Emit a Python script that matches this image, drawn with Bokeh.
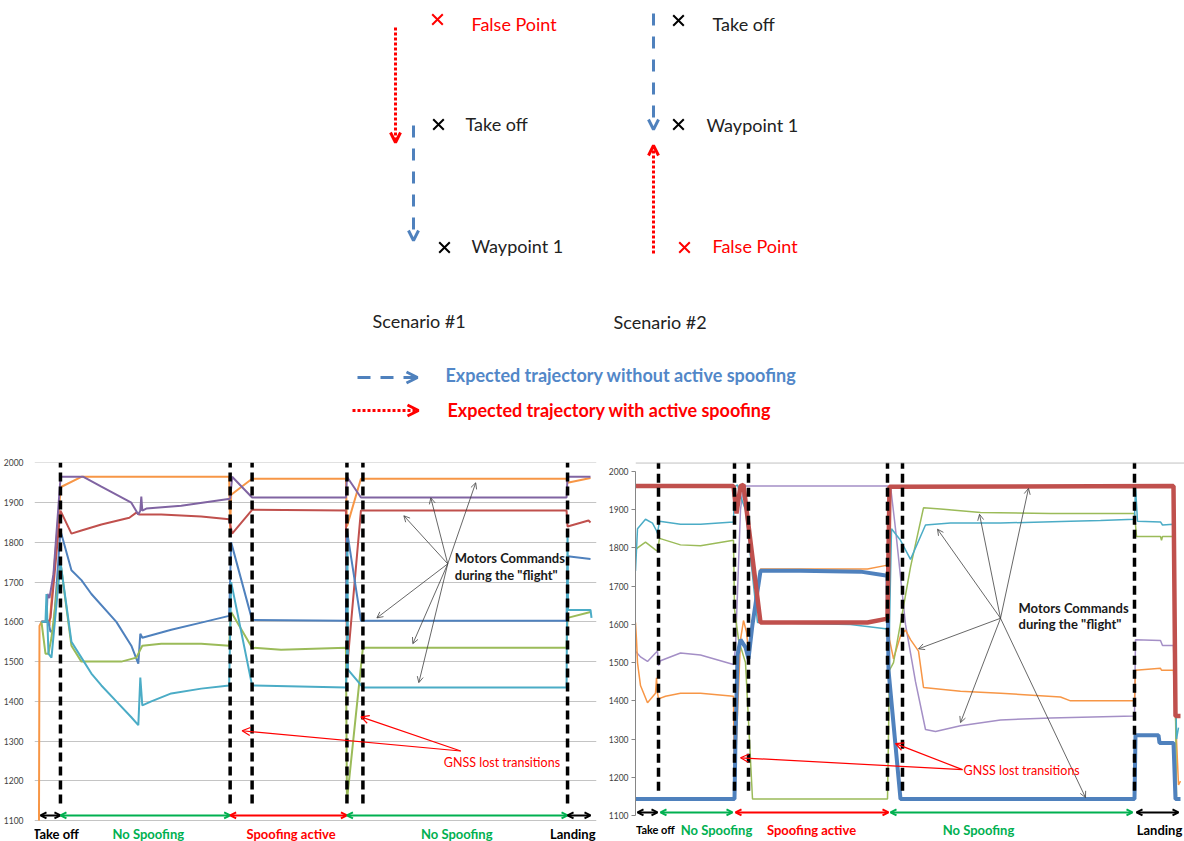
from bokeh.plotting import figure
from bokeh.layouts import column, row
from bokeh.models import Range1d, Arrow, OpenHead, Label, Span, FixedTicker
from bokeh.core.properties import value
from bokeh.embed import file_html
from bokeh.resources import INLINE

FONT = "Lato"

# ---------------- scenario diagram (page-like coordinates) ----------------
cross_x = [437, 438, 444, 678, 678, 684]
cross_y = [19, 124, 247, 20, 124, 247]
cross_color = ["#FF0000", "#000000", "#000000", "#000000", "#000000", "#FF0000"]
point_text = ["False Point", "Take off", "Waypoint 1", "Take off", "Waypoint 1", "False Point"]
point_text_x = [471, 465, 471, 712, 706, 712]
point_text_y = [23, 123, 245, 23, 124, 245]
point_text_color = ["#FF0000", "#222222", "#222222", "#222222", "#222222", "#FF0000"]
scenario_names = ["Scenario #1", "Scenario #2"]
scenario_x = [372, 613]
scenario_y = [320, 321]
legend_names = ["Expected trajectory without active spoofing", "Expected trajectory with active spoofing"]

# ---------------- left chart (scenario #1) ----------------
L_orange_t = [0.5, 1, 3, 9, 11, 22, 23, 43, 191, 192, 193, 214, 308, 309, 323, 529, 530, 553]
L_orange_v = [1100, 1590, 1600, 1600, 1590, 1930, 1940, 1965, 1965, 1830, 1920, 1960, 1960, 1840, 1960, 1960, 1950, 1962]
L_purple_t = [3, 8, 9, 11, 15, 22, 23, 45, 63, 93, 100, 102, 103, 104, 108, 143, 192, 194, 214, 308, 309, 323, 529, 530, 553]
L_purple_v = [1600, 1600, 1670, 1660, 1720, 1960, 1965, 1965, 1940, 1900, 1870, 1880, 1915, 1880, 1885, 1892, 1910, 1965, 1913, 1913, 1965, 1913, 1913, 1965, 1965]
L_red_t = [3, 10, 12, 22, 33, 43, 63, 91, 98, 101, 103, 123, 163, 191, 194, 214, 308, 309, 323, 529, 530, 551, 553]
L_red_v = [1600, 1600, 1610, 1880, 1822, 1830, 1845, 1862, 1875, 1870, 1870, 1870, 1865, 1858, 1822, 1882, 1880, 1480, 1880, 1880, 1840, 1855, 1850]
L_blue_t = [3, 10, 12, 15, 22, 33, 43, 53, 78, 93, 100, 102, 104, 133, 163, 191, 193, 214, 308, 309, 323, 529, 530, 553]
L_blue_v = [1600, 1600, 1575, 1580, 1830, 1730, 1705, 1670, 1600, 1540, 1495, 1570, 1560, 1580, 1598, 1615, 1800, 1605, 1603, 1830, 1603, 1603, 1765, 1758]
L_green_t = [3, 7, 10, 13, 22, 33, 43, 83, 98, 101, 104, 123, 163, 191, 193, 214, 243, 308, 309, 325, 529, 530, 553]
L_green_v = [1600, 1520, 1520, 1560, 1750, 1540, 1500, 1500, 1510, 1525, 1540, 1545, 1545, 1540, 1625, 1535, 1530, 1535, 1150, 1535, 1535, 1610, 1625]
L_cyan_t = [3, 7, 8, 10, 13, 22, 33, 43, 53, 63, 78, 93, 100, 102, 104, 113, 133, 163, 191, 193, 214, 308, 309, 309.5, 310, 325, 529, 530, 530.5, 553, 554]
L_cyan_v = [1600, 1600, 1670, 1520, 1510, 1750, 1550, 1510, 1470, 1440, 1400, 1360, 1340, 1460, 1390, 1400, 1420, 1432, 1440, 1700, 1440, 1435, 1500, 1800, 1480, 1435, 1435, 1830, 1630, 1630, 1610]
L_phase_t = [22, 192, 214, 309, 325, 530]
L_phase_bounds = [2, 22, 192, 309, 530, 553]
L_phase_names = ["Take off", "No Spoofing", "Spoofing active", "No Spoofing", "Landing"]
L_phase_label_t = [17.5, 110, 253, 419, 558]

# ---------------- right chart (scenario #2) ----------------
R_red_t = [0, 98, 101, 105, 108, 125, 165, 232, 252, 254, 538, 540, 545]
R_red_v = [1962, 1962, 1890, 1962, 1965, 1605, 1605, 1605, 1615, 1960, 1962, 1360, 1360]
R_blue_t = [0, 99, 100, 102, 105, 110, 113, 117, 125, 165, 225, 252, 253, 265, 499, 500, 523, 524, 538, 540, 545]
R_blue_v = [1143, 1143, 1300, 1520, 1560, 1540, 1510, 1600, 1740, 1740, 1738, 1727, 1480, 1143, 1143, 1310, 1310, 1290, 1290, 1143, 1143]
R_cyan_t = [0, 2, 10, 17, 21, 22, 24, 45, 65, 98, 99, 102, 105, 110, 122, 165, 215, 252, 253, 256, 265, 275, 290, 315, 365, 435, 465, 499, 500, 502, 525, 527, 538, 541, 543]
R_cyan_v = [1740, 1850, 1875, 1865, 1845, 1838, 1870, 1862, 1862, 1868, 1960, 1965, 1935, 1900, 1605, 1602, 1600, 1588, 1470, 1850, 1820, 1770, 1860, 1865, 1865, 1870, 1872, 1875, 1960, 1870, 1868, 1860, 1862, 1300, 1330]
R_green_t = [0, 2, 10, 20, 22, 24, 45, 65, 98, 99, 103, 110, 117, 252, 254, 258, 275, 288, 305, 345, 415, 499, 501, 525, 526, 527, 538, 541]
R_green_v = [1795, 1800, 1815, 1795, 1792, 1825, 1808, 1806, 1820, 1640, 1560, 1500, 1143, 1143, 1480, 1500, 1750, 1905, 1902, 1893, 1890, 1890, 1830, 1830, 1820, 1830, 1830, 1150]
R_orange_t = [0, 1, 2, 5, 12, 20, 21, 22, 23, 30, 45, 65, 98, 99, 101, 105, 108, 111, 113, 117, 125, 165, 232, 252, 254, 258, 265, 270, 275, 283, 288, 325, 365, 425, 435, 499, 500, 525, 526, 538, 543, 545]
R_orange_v = [1605, 1560, 1500, 1440, 1395, 1420, 1460, 1420, 1405, 1412, 1420, 1420, 1412, 1143, 1300, 1560, 1610, 1580, 1530, 1600, 1745, 1745, 1745, 1755, 1560, 1510, 1570, 1585, 1560, 1530, 1435, 1425, 1420, 1410, 1400, 1400, 1480, 1485, 1480, 1480, 1180, 1190]
R_purple_t = [0, 5, 12, 20, 22, 23, 25, 45, 65, 98, 100, 105, 108, 252, 255, 260, 270, 280, 290, 300, 325, 365, 415, 499, 500, 525, 527, 538, 541]
R_purple_v = [1530, 1515, 1503, 1525, 1530, 1492, 1505, 1525, 1520, 1495, 1540, 1900, 1962, 1962, 1962, 1850, 1600, 1450, 1325, 1320, 1335, 1350, 1355, 1360, 1560, 1558, 1545, 1545, 1300]
R_phase_t = [23, 99, 113, 252, 267, 499]
R_phase_bounds = [(2, 22), (25, 97), (100, 253), (255, 497), (501, 543)]
R_phase_names = ["Take off", "No Spoofing", "Spoofing active", "No Spoofing", "Landing"]
R_phase_label_t = [0.5, 81, 176, 343, 524]

y_ticks = [1100, 1200, 1300, 1400, 1500, 1600, 1700, 1800, 1900, 2000]

BLUE, RED, GREEN, PURPLE, CYAN, ORANGE = "#4F81BD", "#C0504D", "#9BBB59", "#8064A2", "#4BACC6", "#F79646"
PH_COL = ["#000000", "#00B050", "#FF0000", "#00B050", "#000000"]

# ================= top diagram =================
top = figure(width=1184, height=448, x_range=Range1d(0, 1184), y_range=Range1d(448, 0),
             output_backend="svg", toolbar_location=None, min_border=0)
top.axis.visible = False
top.grid.visible = False
top.outline_line_color = None

top.add_layout(Arrow(end=OpenHead(size=10, line_color="#FF0000", line_width=3),
                     x_start=395, y_start=27, x_end=395, y_end=142,
                     line_color="#FF0000", line_width=3, line_dash="3 2"))
top.add_layout(Arrow(end=OpenHead(size=10, line_color=BLUE, line_width=3),
                     x_start=413, y_start=125, x_end=413, y_end=240,
                     line_color=BLUE, line_width=3, line_dash="12 11"))
top.add_layout(Arrow(end=OpenHead(size=10, line_color=BLUE, line_width=3),
                     x_start=653, y_start=13, x_end=653, y_end=129,
                     line_color=BLUE, line_width=3, line_dash="12 11"))
top.add_layout(Arrow(end=OpenHead(size=10, line_color="#FF0000", line_width=3),
                     x_start=653, y_start=253, x_end=653, y_end=145,
                     line_color="#FF0000", line_width=3, line_dash="3 2"))

top.scatter(cross_x, cross_y, marker="x", size=15, line_width=2, line_color=cross_color)
top.text(point_text_x, point_text_y, text=point_text, text_color=point_text_color,
         text_font=value(FONT), text_font_size="18px", text_baseline="middle", text_align="left")
top.text(scenario_x, scenario_y, text=scenario_names, text_color="#222222",
         text_font=value(FONT), text_font_size="18px", text_baseline="middle", text_align="left")

top.add_layout(Arrow(end=OpenHead(size=11, line_color=BLUE, line_width=3),
                     x_start=357, y_start=377, x_end=417, y_end=377,
                     line_color=BLUE, line_width=3, line_dash="13 10"))
top.add_layout(Arrow(end=OpenHead(size=11, line_color="#FF0000", line_width=3),
                     x_start=352, y_start=410, x_end=418, y_end=410,
                     line_color="#FF0000", line_width=3, line_dash="3 2"))
top.text([445, 447], [374, 409], text=legend_names, text_color=["#5287C8", "#FF0000"],
         text_font=value(FONT), text_font_size="18px", text_font_style="bold",
         text_baseline="middle", text_align="left")


def base_chart(width, y0, y1, x0, x1, border_left, border_right, border_top):
    p = figure(width=width, height=393, x_range=Range1d(x0, x1), y_range=Range1d(y0, y1),
               output_backend="svg", toolbar_location=None,
               min_border_left=border_left, min_border_right=border_right,
               min_border_top=border_top, min_border_bottom=0)
    p.xaxis.visible = False
    p.outline_line_color = None
    p.yaxis.ticker = FixedTicker(ticks=y_ticks)
    p.yaxis.minor_tick_line_color = None
    p.yaxis.major_label_text_font = FONT
    p.yaxis.major_label_text_font_size = "8.5px"
    p.yaxis.major_label_text_color = "#404040"
    p.xgrid.visible = False
    return p


# ================= left chart =================
pl = base_chart(605, 1047.3, 2001, -4, 559, 33, 9, 14)
pl.yaxis.axis_line_color = None
pl.yaxis.major_tick_line_color = None
pl.yaxis.major_label_standoff = 5
pl.ygrid.grid_line_color = "#C4C4C4"
pl.ygrid.grid_line_width = 1

for t, v, c in [(L_orange_t, L_orange_v, ORANGE), (L_red_t, L_red_v, RED), (L_purple_t, L_purple_v, PURPLE),
                (L_blue_t, L_blue_v, BLUE), (L_green_t, L_green_v, GREEN), (L_cyan_t, L_cyan_v, CYAN)]:
    pl.line(t, v, line_color=c, line_width=2)

pl.segment(x0=L_phase_t, y0=[1143] * len(L_phase_t), x1=L_phase_t, y1=[2001] * len(L_phase_t),
           line_color="black", line_width=3.5, line_dash="9 5")

for i in range(5):
    pl.add_layout(Arrow(start=OpenHead(size=6, line_color=PH_COL[i], line_width=2),
                        end=OpenHead(size=6, line_color=PH_COL[i], line_width=2),
                        x_start=L_phase_bounds[i], y_start=1113, x_end=L_phase_bounds[i + 1], y_end=1113,
                        line_color=PH_COL[i], line_width=2))
    pl.add_layout(Label(x=L_phase_label_t[i], y=1067, text=L_phase_names[i], text_color=PH_COL[i],
                        text_font=FONT, text_font_size="13px", text_font_style="bold",
                        text_align="right" if i == 4 else "center", text_baseline="middle"))

pl.add_layout(Label(x=417, y=1761, text="Motors Commands", text_font=FONT, text_font_size="13px",
                    text_font_style="bold", text_color="#1a1a1a", text_baseline="middle"))
pl.add_layout(Label(x=417, y=1718, text='during the "flight"', text_font=FONT, text_font_size="13px",
                    text_font_style="bold", text_color="#1a1a1a", text_baseline="middle"))
for xe, ye in [(366, 1867), (438, 1950), (393, 1912), (339, 1610), (375, 1545), (381, 1447)]:
    pl.add_layout(Arrow(end=OpenHead(size=6, line_color="#404040", line_width=0.8),
                        x_start=410, y_start=1746, x_end=xe, y_end=ye, line_color="#404040", line_width=0.8))

pl.add_layout(Label(x=406, y=1246, text="GNSS lost transitions", text_font=FONT, text_font_size="12.5px",
                    text_color="#FF0000", text_baseline="middle"))
for xe, ye in [(323, 1361), (204, 1326)]:
    pl.add_layout(Arrow(end=OpenHead(size=8, line_color="#FF0000", line_width=1.2),
                        x_start=423, y_start=1275, x_end=xe, y_end=ye, line_color="#FF0000", line_width=1.2))

# ================= right chart =================
pr = base_chart(579, 1032, 2023.5, 0, 549, 30, 0, 13)
pr.ygrid.visible = False
pr.yaxis.bounds = (1100, 2000)
pr.yaxis.axis_line_color = "#868686"
pr.yaxis.major_tick_line_color = "#868686"
pr.yaxis.major_tick_out = 4
pr.yaxis.major_tick_in = 0
pr.yaxis.major_label_standoff = 3
pr.add_layout(Span(location=2022.5, dimension="width", line_color="#A6A6A6", line_width=1))

pr.line(R_purple_t, R_purple_v, line_color="#A48FC6", line_width=1.5)
pr.line(R_orange_t, R_orange_v, line_color=ORANGE, line_width=1.5)
pr.line(R_green_t, R_green_v, line_color=GREEN, line_width=1.5)
pr.line(R_cyan_t, R_cyan_v, line_color=CYAN, line_width=1.5)
pr.line(R_blue_t, R_blue_v, line_color=BLUE, line_width=4)
pr.line(R_red_t, R_red_v, line_color=RED, line_width=4.5)

pr.segment(x0=R_phase_t, y0=[1165] * len(R_phase_t), x1=R_phase_t, y1=[2023] * len(R_phase_t),
           line_color="black", line_width=3.5, line_dash="9 5")

for i in range(5):
    a, b = R_phase_bounds[i]
    pr.add_layout(Arrow(start=OpenHead(size=6, line_color=PH_COL[i], line_width=2),
                        end=OpenHead(size=6, line_color=PH_COL[i], line_width=2),
                        x_start=a, y_start=1108, x_end=b, y_end=1108,
                        line_color=PH_COL[i], line_width=2))
    pr.add_layout(Label(x=R_phase_label_t[i], y=1063, text=R_phase_names[i], text_color=PH_COL[i],
                        text_font=FONT, text_font_size="11px" if i == 0 else "13px", text_font_style="bold",
                        text_align="left" if i == 0 else "center", text_baseline="middle"))

pr.add_layout(Label(x=383, y=1643, text="Motors Commands", text_font=FONT, text_font_size="13px",
                    text_font_style="bold", text_color="#1a1a1a", text_baseline="middle"))
pr.add_layout(Label(x=383, y=1601, text='during the "flight"', text_font=FONT, text_font_size="13px",
                    text_font_style="bold", text_color="#1a1a1a", text_baseline="middle"))
for xe, ye in [(393, 1956), (344, 1888), (302, 1849), (283, 1536), (325, 1343), (450, 1147)]:
    pr.add_layout(Arrow(end=OpenHead(size=6, line_color="#404040", line_width=0.8),
                        x_start=365, y_start=1616, x_end=xe, y_end=ye, line_color="#404040", line_width=0.8))

pr.add_layout(Label(x=328, y=1217, text="GNSS lost transitions", text_font=FONT, text_font_size="12.5px",
                    text_color="#FF0000", text_baseline="middle"))
for xe, ye in [(260, 1288), (105, 1251)]:
    pr.add_layout(Arrow(end=OpenHead(size=8, line_color="#FF0000", line_width=1.2),
                        x_start=327, y_start=1220, x_end=xe, y_end=ye, line_color="#FF0000", line_width=1.2))

layout = column(top, row(pl, pr))
open("out.html", "w").write(file_html(layout, INLINE))
